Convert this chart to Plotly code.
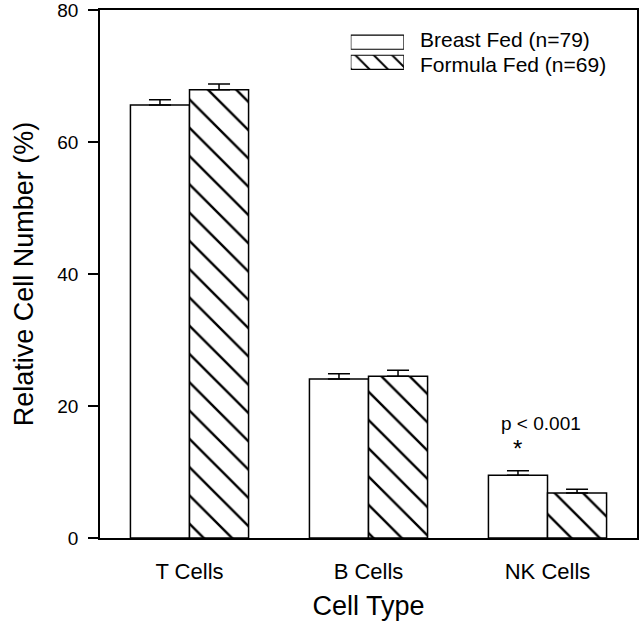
import plotly.graph_objects as go

categories = ["T Cells", "B Cells", "NK Cells"]
breast_fed = [65.6, 24.1, 9.5]
breast_err = [0.8, 0.8, 0.7]
formula_fed = [67.9, 24.5, 6.8]
formula_err = [0.9, 0.9, 0.6]
legend_labels = ["Breast Fed (n=79)", "Formula Fed (n=69)"]

FONT = "Arial, Liberation Sans, sans-serif"

fig = go.Figure()
fig.add_trace(go.Bar(
    x=categories, y=breast_fed, name=legend_labels[0],
    marker=dict(color="white", line=dict(color="black", width=1.5)),
    error_y=dict(type="data", symmetric=False, array=breast_err,
                 arrayminus=[0, 0, 0], color="black", thickness=1.5, width=11),
    showlegend=False,
))
fig.add_trace(go.Bar(
    x=categories, y=formula_fed, name=legend_labels[1],
    marker=dict(color="white", line=dict(color="black", width=1.5),
                pattern=dict(shape="\\", size=20, solidity=0.12, fgopacity=1,
                             fgcolor="#000000", bgcolor="white")),
    error_y=dict(type="data", symmetric=False, array=formula_err,
                 arrayminus=[0, 0, 0], color="black", thickness=1.5, width=11),
    showlegend=False,
))

# legend swatches drawn on an auxiliary axis
fig.add_trace(go.Bar(
    x=[1], y=[1], orientation="h", xaxis="x2", yaxis="y2", width=0.7,
    marker=dict(color="white", line=dict(color="black", width=1.2)),
    showlegend=False, hoverinfo="skip",
))
fig.add_trace(go.Bar(
    x=[1], y=[0], orientation="h", xaxis="x2", yaxis="y2", width=0.7,
    marker=dict(color="white", line=dict(color="black", width=1.2),
                pattern=dict(shape="\\", size=13, solidity=0.15, fgopacity=1,
                             fgcolor="#000000", bgcolor="white")),
    showlegend=False, hoverinfo="skip",
))

fig.update_layout(
    width=642, height=629,
    margin=dict(l=100, r=5, t=10, b=91),
    paper_bgcolor="white", plot_bgcolor="white",
    font=dict(family=FONT, color="black", size=19),
    barmode="group", bargap=0.34, bargroupgap=0,
    xaxis=dict(
        showline=True, linecolor="black", linewidth=1.5, mirror=True,
        ticks="", showgrid=False, range=[-0.5, 2.5], automargin=False,
        tickfont=dict(size=22), ticklabelstandoff=13,
        title=dict(text="Cell Type", font=dict(size=27), standoff=13),
    ),
    yaxis=dict(
        range=[0, 80], tickvals=[0, 20, 40, 60, 80],
        showline=True, linecolor="black", linewidth=1.5, mirror=True,
        ticks="outside", ticklen=10, tickwidth=1.5, tickcolor="black",
        showgrid=False, zeroline=False, ticklabeloverflow="allow",
        automargin=False,
        tickfont=dict(size=19), ticklabelstandoff=6,
        title=dict(text="Relative Cell Number (%)", font=dict(size=27), standoff=16),
    ),
    xaxis2=dict(domain=[0.467, 0.566], range=[0, 1], anchor="y2",
                visible=False, fixedrange=True),
    yaxis2=dict(domain=[0.882, 0.958], range=[-0.5, 1.5], anchor="x2",
                visible=False, fixedrange=True),
    annotations=[
        dict(text=legend_labels[0], xref="paper", yref="paper", x=0.592, y=0.945,
             xanchor="left", yanchor="middle", showarrow=False, font=dict(size=21)),
        dict(text=legend_labels[1], xref="paper", yref="paper", x=0.592, y=0.897,
             xanchor="left", yanchor="middle", showarrow=False, font=dict(size=21)),
        dict(text="p < 0.001", x="NK Cells", y=17.3, xref="x", yref="y",
             xshift=-7, showarrow=False, font=dict(size=19)),
        dict(text="*", x="NK Cells", y=13.6, xref="x", yref="y",
             xshift=-30, showarrow=False, font=dict(size=24)),
    ],
)

fig.write_html("out.html", config={"displayModeBar": False},
               post_script="document.body.style.margin='0';")
